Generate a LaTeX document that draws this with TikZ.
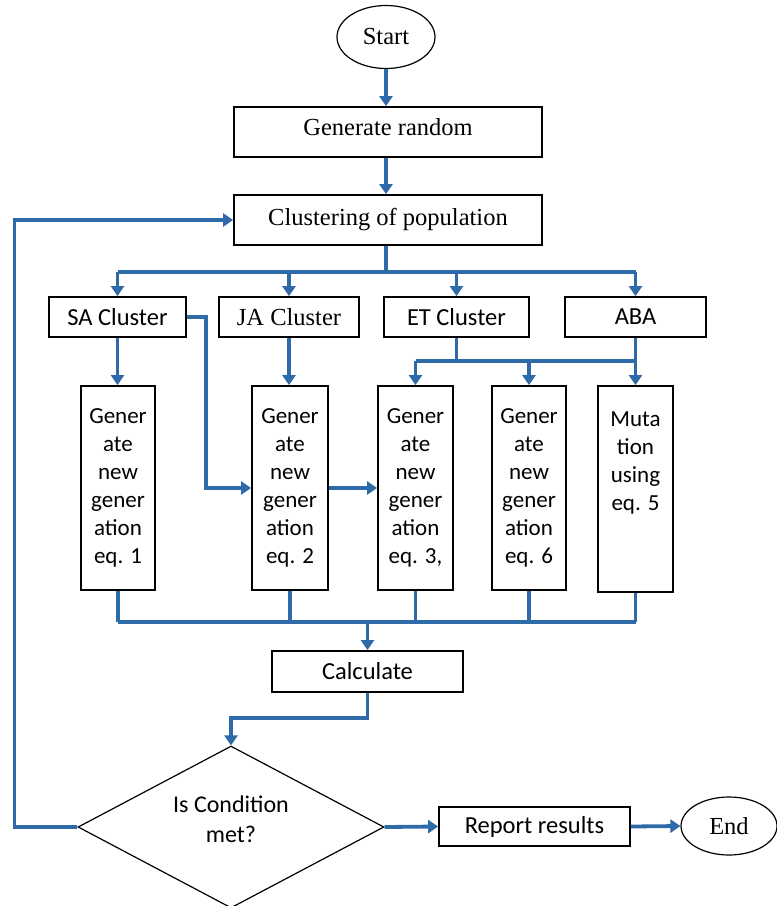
\documentclass[tikz,border=0pt]{standalone}
\usepackage{fontspec}
\setmainfont{Liberation Serif}
\newfontfamily\calib{Carlito}
\usetikzlibrary{arrows.meta,positioning,calc,shapes.geometric}
\definecolor{flowblue}{RGB}{46,105,168}
\tikzset{
  wire/.style={draw=flowblue, line width=3.8pt},
  flow/.style={wire, -{Triangle[width=13pt,length=10pt]}},
  box/.style={draw=black, line width=1.8pt, rectangle, inner sep=2pt,
    font=\fontsize{24.5}{28}\selectfont},
  sbox/.style={box, font=\calib\fontsize{24.5}{28}\selectfont},
  tall/.style={sbox, minimum width=75pt, minimum height=204pt, align=center,
    font=\calib\fontsize{23}{28}\selectfont},
  term/.style={draw=black, line width=1.2pt, ellipse, inner sep=0pt,
    font=\fontsize{24.5}{28}\selectfont},
}

\begin{document}
\begin{tikzpicture}[x=1pt,y=-1pt]
  \useasboundingbox (0,0) rectangle (777,906);
  % top part
  \node[term, minimum width=98pt, minimum height=63pt] (start) at (386,37) {Start};
  \node[box, minimum width=308pt, minimum height=50pt] (gen) at (388,132)
    {\raisebox{5pt}[\height][\depth]{Generate random}};
  \node[box, minimum width=308pt, minimum height=50pt] (clust) at (388,220) {Clustering of population};
  % clusters
  \node[sbox, minimum width=137pt, minimum height=40pt] (sa) at (117.5,317) {SA Cluster};
  \node[box, minimum width=140pt, minimum height=40pt] (ja) at (289,317) {JA Cluster};
  \node[sbox, minimum width=145pt, minimum height=40pt] (et) at (456.5,317) {ET Cluster};
  \node[sbox, minimum width=141pt, minimum height=40pt] (aba) at (635.5,317) {ABA};
  % generation boxes
  \node[tall, minimum width=74pt] (g1) at (118,488) {Gener\\ate\\new\\gener\\ation\\eq. 1};
  \node[tall, minimum width=76pt] (g2) at (290,488) {Gener\\ate\\new\\gener\\ation\\eq. 2};
  \node[tall] (g3) at (415.5,488) {Gener\\ate\\new\\gener\\ation\\eq. 3,};
  \node[tall, minimum width=74pt] (g4) at (529,488) {Gener\\ate\\new\\gener\\ation\\eq. 6};
  \node[tall, minimum height=206pt] (g5) at (635.5,489) {Muta\\tion\\using\\eq. 5\\\mbox{}\\\mbox{}};
  % bottom part
  \node[sbox, minimum width=191pt, minimum height=41pt] (calc) at (367.5,671.5) {Calculate};
  \node[draw=black, line width=1.2pt, diamond, aspect=1.9, inner sep=0pt, minimum width=306pt,
    minimum height=162pt, font=\calib\fontsize{24}{30}\selectfont]
    (cond) at (231,827)
    {\raisebox{6pt}[\height][\depth]{\begin{tabular}{@{}c@{}}Is Condition\\met?\end{tabular}}};
  \node[sbox, minimum width=191pt, minimum height=39pt] (rep) at (534.5,826.5) {Report results};
  \node[term, minimum width=96pt, minimum height=58pt] (end) at (729,826) {End};

  \coordinate (bt) at (0,272);
  \coordinate (mt) at (0,361);
  \coordinate (bb) at (0,622);
  \coordinate (ct) at (0,718);

  \draw[flow] (start.south) -- (start.south |- gen.north);
  \draw[flow] (start.south |- gen.south) -- (start.south |- clust.north);
  \draw[wire] (start.south |- clust.south) -- (start.south |- bt);
  \draw[wire] (sa.north |- bt) -- (aba.north |- bt);
  \foreach \n in {sa,ja,et,aba}
    \draw[flow] (\n.north |- bt) -- (\n.north);
  \draw[flow] (sa.south) -- (sa.south |- g1.north);
  \draw[flow] (ja.south) -- (ja.south |- g2.north);
  \draw[flow] (sa.east) -- ++(19,0) |- (g2.west);
  \draw[flow] (g2.east) -- (g3.west);
  \draw[wire] (et.south) -- (et.south |- mt);
  \draw[wire] (g3.north |- mt) -- (aba.south |- mt);
  \draw[flow] (aba.south) -- (aba.south |- g5.north);
  \draw[flow] (g3.north |- mt) -- (g3.north);
  \draw[flow] (g4.north |- mt) -- (g4.north);

  \foreach \n in {g1,g2,g3,g4,g5}
    \draw[wire] (\n.south) -- (\n.south |- bb);
  \draw[wire] (g1.south |- bb) -- (g5.south |- bb);
  \draw[flow] (calc.north |- bb) -- (calc.north);
  \draw[flow] (calc.south) -- (calc.south |- ct) -| (cond.north);
  \draw[flow] (cond.west) -- ++(-63,0) |- (clust.west);
  \draw[flow] (cond.east) -- (rep.west);
  \draw[flow] (rep.east) -- (end.west);
\end{tikzpicture}
\end{document}
